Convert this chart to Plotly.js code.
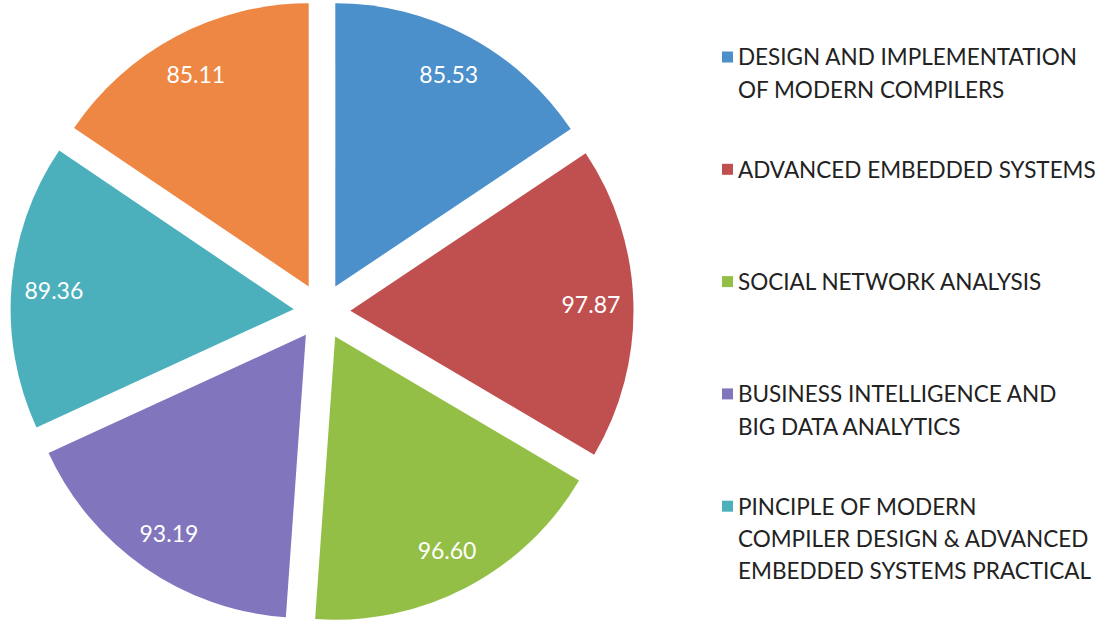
<!DOCTYPE html>
<html>
<head>
<meta charset="utf-8">
<script src="https://cdn.plot.ly/plotly-3.0.1.min.js"></script>
<style>
  html, body { margin: 0; padding: 0; background: #ffffff; }
  #chart { width: 1102px; height: 623px; }
</style>
</head>
<body>
<div id="chart"></div>
<script>
// ---- data ----
const subjects = [
  'DESIGN AND IMPLEMENTATION<br>OF MODERN COMPILERS',
  'ADVANCED EMBEDDED SYSTEMS',
  'SOCIAL NETWORK ANALYSIS',
  'BUSINESS INTELLIGENCE AND<br>BIG DATA ANALYTICS',
  'PINCIPLE OF MODERN<br>COMPILER DESIGN & ADVANCED<br>EMBEDDED SYSTEMS PRACTICAL',
  'UNLABELLED'
];
const scores = [85.53, 97.87, 96.60, 93.19, 89.36, 85.11];
const colors = ['#4B8FCB', '#C0504F', '#94BF47', '#8175BE', '#4BB0BC', '#EE8744'];
const legendCount = 5; // only five legend entries are visible in the reference

// ---- layout helpers ----
const W = 1102, H = 623;
const pull = scores.map(() => 0.1);
const domainX = [0, 644 / W];

const pieBase = {
  type: 'pie',
  values: scores,
  labels: subjects,
  sort: false,
  direction: 'clockwise',
  rotation: 0,
  pull: pull,
  domain: { x: domainX, y: [0, 1] },
  showlegend: false
};

const traces = [
  Object.assign({}, pieBase, {
    marker: { colors: colors, line: { width: 0 } },
    textinfo: 'none',
    hoverinfo: 'label+value'
  }),
  Object.assign({}, pieBase, {
    hole: 0.7,
    marker: { colors: scores.map(() => 'rgba(0,0,0,0)'), line: { width: 0 } },
    texttemplate: '%{value:.2f}',
    textposition: 'inside',
    insidetextorientation: 'horizontal',
    insidetextfont: { family: 'Lato, sans-serif', size: 23, color: '#ffffff' },
    hoverinfo: 'skip'
  })
];

// ---- custom legend (first five entries) ----
const annotations = [];
const shapes = [];
const legTop = 57, legStep = 112.3, lineStep = 32.3;
const sqX = 722, sqSize = 11, textX = 736;
for (let i = 0; i < legendCount; i++) {
  const yc = legTop + i * legStep;
  shapes.push({
    type: 'rect', xref: 'paper', yref: 'paper',
    x0: sqX / W, x1: (sqX + sqSize) / W,
    y0: 1 - (yc + sqSize / 2) / H, y1: 1 - (yc - sqSize / 2) / H,
    fillcolor: colors[i], line: { width: 0 }
  });
  subjects[i].split('<br>').forEach((line, j) => {
    annotations.push({
      xref: 'paper', yref: 'paper',
      x: textX / W, y: 1 - (yc + j * lineStep) / H,
      xanchor: 'left', yanchor: 'middle',
      text: line, showarrow: false,
      font: { family: 'Lato, sans-serif', size: 22.5, color: '#222222' }
    });
  });
}

const layout = {
  width: W, height: H,
  margin: { l: 0, r: 0, t: 0, b: 0 },
  paper_bgcolor: '#ffffff',
  plot_bgcolor: '#ffffff',
  showlegend: false,
  annotations: annotations,
  shapes: shapes
};

Plotly.newPlot('chart', traces, layout, { displayModeBar: false, staticPlot: true });
</script>
</body>
</html>
